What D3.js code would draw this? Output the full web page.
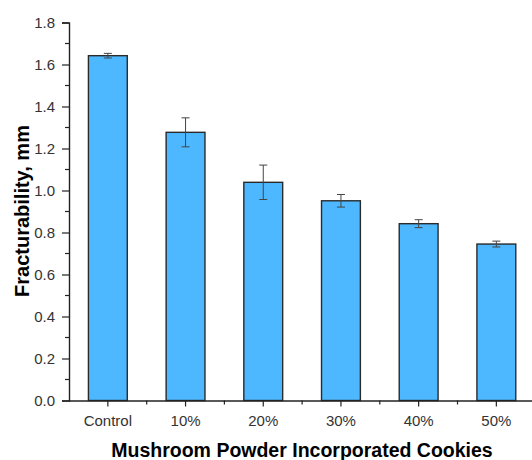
<!DOCTYPE html>
<html>
<head>
<meta charset="utf-8">
<script src="https://cdn.jsdelivr.net/npm/d3@7"></script>
<style>
  html, body { margin: 0; padding: 0; background: #fff; }
  svg { display: block; font-family: "Liberation Sans", Arial, sans-serif; }
</style>
</head>
<body>
<svg id="chart" width="532" height="460"></svg>
<script>
// Fracturability of cookies by mushroom powder level
const categories = ["Control", "10%", "20%", "30%", "40%", "50%"];
const fracturability = [1.642, 1.277, 1.039, 0.951, 0.842, 0.745];
const errors = [0.011, 0.069, 0.082, 0.030, 0.019, 0.014];
const yTicks = [0.0, 0.2, 0.4, 0.6, 0.8, 1.0, 1.2, 1.4, 1.6, 1.8];

const svg = d3.select("#chart");
const margin = { left: 69, right: 0, top: 22.5, bottom: 59.5 };
const W = 532, H = 460;

const x = d3.scaleBand()
  .domain(categories)
  .range([margin.left, margin.left + 6 * 77.7])
  .paddingInner(0.5)
  .paddingOuter(0.25);

const y = d3.scaleLinear()
  .domain([0, 1.8])
  .range([H - margin.bottom, margin.top]);

const stroke = "#222";

// bars
svg.append("g").selectAll("rect")
  .data(categories)
  .join("rect")
  .attr("x", d => x(d))
  .attr("width", x.bandwidth())
  .attr("y", (d, i) => y(fracturability[i]))
  .attr("height", (d, i) => y(0) - y(fracturability[i]))
  .attr("fill", "#4db8ff")
  .attr("stroke", "#2a2a2a")
  .attr("stroke-width", 1.4);

// error bars
const eg = svg.append("g").attr("stroke", "#444").attr("stroke-width", 1);
categories.forEach((c, i) => {
  const cx = x(c) + x.bandwidth() / 2;
  const lo = y(fracturability[i] - errors[i]);
  const hi = y(fracturability[i] + errors[i]);
  eg.append("line").attr("x1", cx).attr("x2", cx).attr("y1", lo).attr("y2", hi);
  eg.append("line").attr("x1", cx - 4).attr("x2", cx + 4).attr("y1", lo).attr("y2", lo);
  eg.append("line").attr("x1", cx - 4).attr("x2", cx + 4).attr("y1", hi).attr("y2", hi);
});

// y axis
const yAxis = svg.append("g")
  .attr("transform", `translate(${margin.left},0)`)
  .call(d3.axisLeft(y).tickValues(yTicks).tickFormat(d3.format(".1f")).tickSize(7).tickPadding(7));
// minor y ticks
svg.append("g").selectAll("line")
  .data(d3.range(0.1, 1.8, 0.2))
  .join("line")
  .attr("x1", margin.left - 4).attr("x2", margin.left)
  .attr("y1", d => y(d)).attr("y2", d => y(d))
  .attr("stroke", stroke).attr("stroke-width", 1.2);

// x axis
const xAxis = svg.append("g")
  .attr("transform", `translate(0,${y(0)})`)
  .call(d3.axisBottom(x).tickSize(6).tickPadding(9));
xAxis.select(".domain").attr("d", `M${margin.left},0.5H${W}`);
// minor x ticks midway between categories
svg.append("g").selectAll("line")
  .data(categories.slice(0, -1))
  .join("line")
  .attr("x1", d => x(d) + x.bandwidth() / 2 + x.step() / 2)
  .attr("x2", d => x(d) + x.bandwidth() / 2 + x.step() / 2)
  .attr("y1", y(0)).attr("y2", y(0) + 4)
  .attr("stroke", stroke).attr("stroke-width", 1.2);

[yAxis, xAxis].forEach(a => {
  a.selectAll(".domain").attr("stroke", stroke).attr("stroke-width", 1.4);
  a.selectAll(".tick line").attr("stroke", stroke).attr("stroke-width", 1.2);
  a.selectAll(".tick text").attr("font-size", 15).attr("fill", "#333")
    .attr("font-family", "'Liberation Sans', Arial, sans-serif");
});

// axis titles
svg.append("text")
  .attr("x", 302).attr("y", 457)
  .attr("text-anchor", "middle")
  .attr("font-size", 19.5).attr("font-weight", "bold")
  .text("Mushroom Powder Incorporated Cookies");

svg.append("text")
  .attr("transform", "translate(28.5,211) rotate(-90)")
  .attr("text-anchor", "middle")
  .attr("font-size", 20).attr("font-weight", "bold")
  .text("Fracturability, mm");
</script>
</body>
</html>
